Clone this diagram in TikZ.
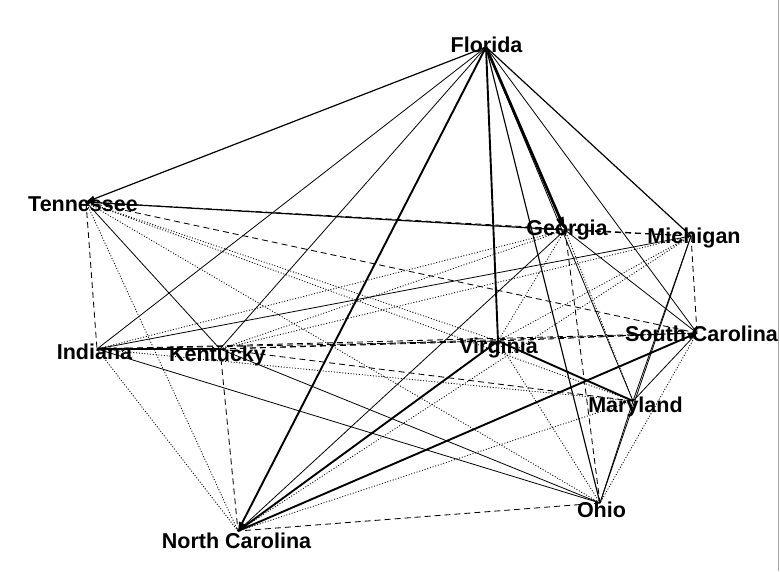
\documentclass[tikz,border=0pt]{standalone}
\usepackage{fontspec}
\setmainfont{Liberation Sans}
\usetikzlibrary{arrows.meta}
\begin{document}
\begin{tikzpicture}[x=1pt,y=-1pt,
  vtx/.style={coordinate},
  lbl/.style={font=\fontsize{21.5}{25}\selectfont\bfseries, inner sep=0pt, anchor=base, text=black},
  thn/.style={line width=0.8pt},
  med/.style={line width=1.2pt},
  thk/.style={line width=1.9pt},
  vthk/.style={line width=2.7pt},
  dsh/.style={line width=0.85pt, dash pattern=on 6pt off 4pt},
  dtt/.style={line width=0.85pt, dash pattern=on 1pt off 1.8pt},
  bigtip/.style={-{Triangle[length=13pt,width=7pt]}},
  smalltip/.style={-{Triangle[length=9pt,width=6pt]}},
]
\useasboundingbox (0,0) rectangle (780,571);
\draw[black!35, line width=0.8pt] (778,0) -- (778,571);

% vertices
\node[vtx] (FL) at (486,47) {};
\node[vtx] (GA) at (565,230) {};
\node[vtx] (MI) at (691,236) {};
\node[vtx] (TN) at (86,202) {};
\node[vtx] (IN) at (97,349) {};
\node[vtx] (KY) at (220,349) {};
\node[vtx] (VA) at (498,341) {};
\node[vtx] (SC) at (697,333) {};
\node[vtx] (MD) at (633,401) {};
\node[vtx] (OH) at (600,503) {};
\node[vtx] (NC) at (238,531) {};

% Florida
\draw[med,smalltip] (FL) -- (TN);
\draw[thn] (FL) -- (IN);
\draw[thn] (FL) -- (KY);
\draw[thk,smalltip] (FL) -- (NC);
\draw[thk] (FL) -- (VA);
\draw[vthk,bigtip] (FL) -- (GA);
\draw[thn] (FL) -- (MD);
\draw[med] (FL) -- (OH);
\draw[thn] (FL) -- (SC);
\draw[med] (FL) -- (MI);
% Tennessee
\draw[med] (TN) -- (GA);
\draw[dsh] (TN) -- (MI);
\draw[dsh] (TN) -- (SC);
\draw[dtt] (TN) -- (VA);
\draw[dtt] (TN) -- (MD);
\draw[dtt] (TN) -- (OH);
\draw[thn] (TN) -- (KY);
\draw[dtt] (TN) -- (NC);
\draw[dsh] (TN) -- (IN);
% Indiana
\draw[med] (IN) -- (KY);
\draw[dtt] (IN) -- (GA);
\draw[thn] (IN) -- (MI);
\draw[dtt] (IN) -- (NC);
\draw[thn] (IN) -- (OH);
\draw[dtt] (IN) -- (MD);
\draw[dsh] (IN) -- (VA);
\draw[dsh] (IN) -- (SC);
% Kentucky
\draw[dtt] (KY) -- (GA);
\draw[dtt] (KY) -- (MI);
\draw[dsh] (KY) -- (VA);
\draw[dsh] (KY) -- (SC);
\draw[dsh] (KY) -- (MD);
\draw[thn] (KY) -- (OH);
\draw[dsh] (KY) -- (NC);
% Georgia
\draw[dsh] (GA) -- (MI);
\draw[thn] (GA) -- (NC);
\draw[dtt] (GA) -- (VA);
\draw[dsh] (GA) -- (OH);
\draw[dtt] (GA) -- (MD);
\draw[thn] (GA) -- (SC);
% Michigan
\draw[dsh] (MI) -- (SC);
\draw[thn] (MI) -- (OH);
\draw[thn] (MI) -- (MD);
\draw[dtt] (MI) -- (NC);
\draw[dtt] (MI) -- (VA);
% Virginia
\draw[thk] (VA) -- (MD);
\draw[dtt] (VA) -- (OH);
\draw[thk] (VA) -- (NC);
\draw[dsh] (VA) -- (SC);
% South Carolina
\draw[thk,smalltip] (NC) -- (SC);
\draw[thn] (SC) -- (MD);
\draw[dtt] (SC) -- (OH);
% Maryland
\draw[dtt] (MD) -- (NC);
\draw[thn] (MD) -- (OH);
% Ohio
\draw[dsh] (OH) -- (NC);

% labels
\node[lbl] (lFL) at (486.5,52) {Florida};
\node[lbl] (lGA) at (567,235) {Georgia};
\node[lbl] (lMI) at (694,243) {Michigan};
\node[lbl] (lTN) at (83,211) {Tennessee};
\node[lbl] (lIN) at (94.5,359) {Indiana};
\node[lbl] (lKY) at (217.5,361) {Kentucky};
\node[lbl] (lVA) at (498.5,353) {Virginia};
\node[lbl] (lSC) at (701.5,341) {South Carolina};
\node[lbl] (lMD) at (635.5,412) {Maryland};
\node[lbl] (lOH) at (601.5,517) {Ohio};
\node[lbl] (lNC) at (236.5,548) {North Carolina};
\end{tikzpicture}
\end{document}
